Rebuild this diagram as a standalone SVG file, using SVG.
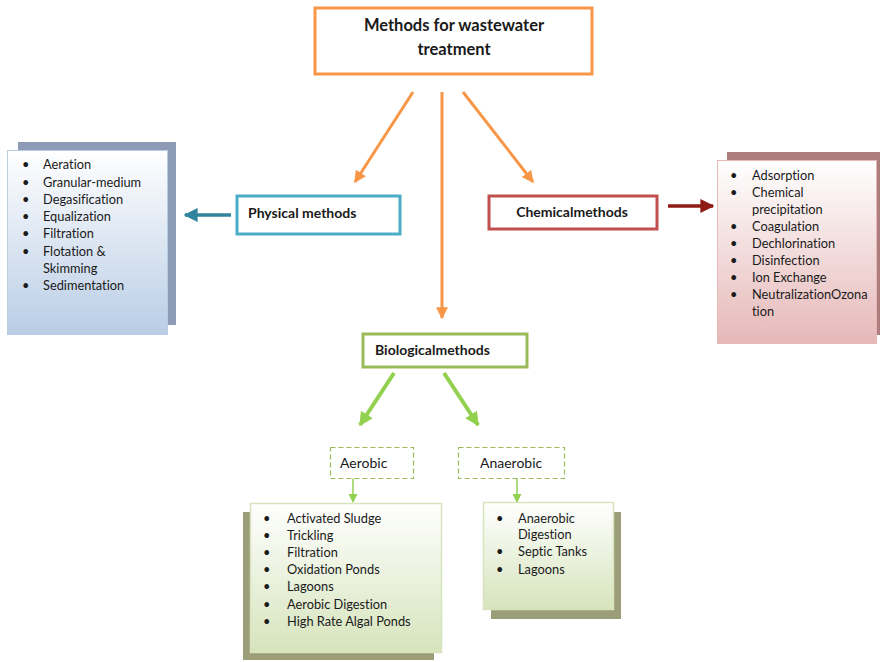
<svg xmlns="http://www.w3.org/2000/svg" width="880" height="662" viewBox="0 0 880 662">
<style>
text{font-family:Lato,"Liberation Sans",sans-serif;fill:#1a1a1a;font-variant-ligatures:none}
.b{font-weight:bold;font-size:14px}
.l{font-size:12.8px}
.node{fill:#fff}
</style>
<defs>
<linearGradient id="gBlue" x1="0" y1="0" x2="0" y2="1"><stop offset="0" stop-color="#ffffff"/><stop offset="1" stop-color="#b9cde6"/></linearGradient>
<linearGradient id="gRed" x1="0" y1="0" x2="0" y2="1"><stop offset="0" stop-color="#ffffff"/><stop offset="1" stop-color="#e6b8b8"/></linearGradient>
<linearGradient id="gGreen" x1="0" y1="0" x2="0" y2="1"><stop offset="0" stop-color="#ffffff"/><stop offset="1" stop-color="#d6e4bc"/></linearGradient>
<marker id="mO" viewBox="0 0 10 10" refX="9" refY="5" markerWidth="4" markerHeight="4" orient="auto"><path d="M0,0L10,5L0,10z" fill="#f79646"/></marker>
<marker id="mT" viewBox="0 0 10 10" refX="9" refY="5" markerWidth="4" markerHeight="4" orient="auto"><path d="M0,0L10,5L0,10z" fill="#31849b"/></marker>
<marker id="mR" viewBox="0 0 10 10" refX="9" refY="5" markerWidth="4" markerHeight="4" orient="auto"><path d="M0,0L10,5L0,10z" fill="#8e1c14"/></marker>
<marker id="mG" viewBox="0 0 10 10" refX="9" refY="5" markerWidth="3.5" markerHeight="3.5" orient="auto"><path d="M0,0L10,5L0,10z" fill="#92d050"/></marker>
<marker id="mG2" viewBox="0 0 10 10" refX="9" refY="5" markerWidth="6" markerHeight="6" orient="auto"><path d="M0,0L10,5L0,10z" fill="#92d050"/></marker>
</defs>

<g id="connectors">
<line x1="413" y1="92" x2="355" y2="182" stroke="#f79646" stroke-width="3" marker-end="url(#mO)"/>
<line x1="442" y1="92" x2="442" y2="318" stroke="#f79646" stroke-width="3" marker-end="url(#mO)"/>
<line x1="463" y1="92" x2="533" y2="182" stroke="#f79646" stroke-width="3" marker-end="url(#mO)"/>
<line x1="231" y1="215" x2="185" y2="215" stroke="#31849b" stroke-width="3.5" marker-end="url(#mT)"/>
<line x1="668" y1="206" x2="713" y2="206" stroke="#8e1c14" stroke-width="3.5" marker-end="url(#mR)"/>
<line x1="394" y1="373" x2="360" y2="425" stroke="#92d050" stroke-width="4" marker-end="url(#mG)"/>
<line x1="444" y1="373" x2="478" y2="425" stroke="#92d050" stroke-width="4" marker-end="url(#mG)"/>
<line x1="353" y1="478" x2="353" y2="502" stroke="#92d050" stroke-width="1.5" marker-end="url(#mG2)"/>
<line x1="517" y1="478" x2="517" y2="502" stroke="#92d050" stroke-width="1.5" marker-end="url(#mG2)"/>
</g>

<g id="root">
<rect x="315" y="8" width="277" height="66" class="node" stroke="#f79646" stroke-width="3"/>
<text class="b" x="454" y="31" text-anchor="middle" style="font-size:16.5px">Methods for wastewater</text>
<text class="b" x="454" y="55" text-anchor="middle" style="font-size:16.5px">treatment</text>
</g>

<g id="physical">
<rect x="237" y="196" width="163" height="38" class="node" stroke="#4bacc6" stroke-width="3"/>
<text class="b" x="248" y="218">Physical methods</text>
</g>

<g id="chemical">
<rect x="489" y="196" width="168" height="33" class="node" stroke="#c0504d" stroke-width="3"/>
<text class="b" x="572" y="217" text-anchor="middle">Chemicalmethods</text>
</g>

<g id="biological">
<rect x="363" y="334" width="164" height="33" class="node" stroke="#9bbb59" stroke-width="3"/>
<text class="b" x="375" y="355">Biologicalmethods</text>
</g>

<g id="physical-list">
<rect x="18" y="142" width="158" height="183" fill="#8d9bb6"/>
<rect x="7.5" y="150.5" width="160" height="184" fill="url(#gBlue)" stroke="#b8cce4" stroke-width="1"/>
<g class="l">
<text x="22" y="169">•</text><text x="43" y="169">Aeration</text>
<text x="22" y="187">•</text><text x="43" y="187">Granular-medium</text>
<text x="22" y="204">•</text><text x="43" y="204">Degasification</text>
<text x="22" y="221">•</text><text x="43" y="221">Equalization</text>
<text x="22" y="238">•</text><text x="43" y="238">Filtration</text>
<text x="22" y="256">•</text><text x="43" y="256">Flotation &amp;</text>
<text x="43" y="273">Skimming</text>
<text x="22" y="290">•</text><text x="43" y="290">Sedimentation</text>
</g>
</g>

<g id="chemical-list">
<rect x="727" y="152" width="153" height="183" fill="#ad7c7c"/>
<rect x="717.5" y="160.5" width="159" height="183" fill="url(#gRed)" stroke="#e6b9b8" stroke-width="1"/>
<g class="l">
<text x="730" y="180">•</text><text x="752" y="180">Adsorption</text>
<text x="730" y="197">•</text><text x="752" y="197">Chemical</text>
<text x="752" y="214">precipitation</text>
<text x="730" y="231">•</text><text x="752" y="231">Coagulation</text>
<text x="730" y="248">•</text><text x="752" y="248">Dechlorination</text>
<text x="730" y="265">•</text><text x="752" y="265">Disinfection</text>
<text x="730" y="282">•</text><text x="752" y="282">Ion Exchange</text>
<text x="730" y="299">•</text><text x="752" y="299">NeutralizationOzona</text>
<text x="752" y="316">tion</text>
</g>
</g>

<g id="aerobic">
<rect x="330.5" y="447.5" width="83" height="31" fill="#fff" stroke="#9bbb59" stroke-width="1.2" stroke-dasharray="5,3"/>
<text x="340" y="468" style="font-size:14px">Aerobic</text>
</g>

<g id="anaerobic">
<rect x="458.5" y="447.5" width="106" height="31" fill="#fff" stroke="#9bbb59" stroke-width="1.2" stroke-dasharray="5,3"/>
<text x="480" y="468" style="font-size:14px">Anaerobic</text>
</g>

<g id="aerobic-list">
<rect x="243" y="512" width="191" height="148" fill="#9b9e79"/>
<rect x="250.5" y="503.5" width="191" height="149" fill="url(#gGreen)" stroke="#d7e4bd" stroke-width="1.5"/>
<g class="l">
<text x="263" y="523">•</text><text x="287" y="523">Activated Sludge</text>
<text x="263" y="540">•</text><text x="287" y="540">Trickling</text>
<text x="263" y="557">•</text><text x="287" y="557">Filtration</text>
<text x="263" y="574">•</text><text x="287" y="574">Oxidation Ponds</text>
<text x="263" y="591">•</text><text x="287" y="591">Lagoons</text>
<text x="263" y="609">•</text><text x="287" y="609">Aerobic Digestion</text>
<text x="263" y="626">•</text><text x="287" y="626">High Rate Algal Ponds</text>
</g>
</g>

<g id="anaerobic-list">
<rect x="491" y="512" width="130" height="107" fill="#9b9e79"/>
<rect x="483.5" y="502.5" width="130" height="107" fill="url(#gGreen)" stroke="#d7e4bd" stroke-width="1.5"/>
<g class="l">
<text x="496" y="523">•</text><text x="518" y="523">Anaerobic</text>
<text x="518" y="539">Digestion</text>
<text x="496" y="556">•</text><text x="518" y="556">Septic Tanks</text>
<text x="496" y="574">•</text><text x="518" y="574">Lagoons</text>
</g>
</g>
</svg>
